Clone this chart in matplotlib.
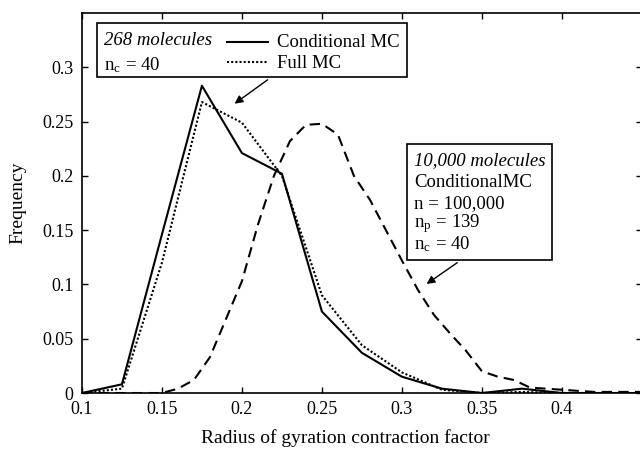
import matplotlib
matplotlib.use("Agg")
import matplotlib.pyplot as plt
from matplotlib.patches import Rectangle

plt.rcParams['font.family'] = ['Liberation Serif', 'DejaVu Serif']
plt.rcParams['mathtext.fontset'] = 'stix'

# histogram of contraction factor, 268 molecules
x_small = [0.1, 0.125, 0.15, 0.175, 0.2, 0.225, 0.25, 0.275, 0.3, 0.325, 0.35, 0.375, 0.4, 0.425, 0.45]
cond_mc = [0.0, 0.008, 0.146, 0.283, 0.221, 0.202, 0.075, 0.037, 0.015, 0.004, 0.0, 0.004, 0.0, 0.0, 0.0]
full_mc = [0.0, 0.004, 0.120, 0.268, 0.249, 0.200, 0.090, 0.044, 0.019, 0.003, 0.0, 0.001, 0.0, 0.0, 0.0]

# 10,000 molecules, conditional MC
x_large = [0.10, 0.11, 0.12, 0.13, 0.14, 0.15, 0.16, 0.17, 0.18, 0.19, 0.20, 0.21, 0.22,
           0.23, 0.24, 0.25, 0.26, 0.27, 0.28, 0.29, 0.30, 0.31, 0.32, 0.33, 0.34, 0.35,
           0.36, 0.37, 0.38, 0.39, 0.40, 0.41, 0.42, 0.43, 0.44, 0.45]
large_mc = [0.0, 0.0, 0.0, 0.0, 0.0, 0.0, 0.004, 0.012, 0.033, 0.068, 0.103, 0.155, 0.200,
            0.232, 0.247, 0.248, 0.238, 0.200, 0.178, 0.150, 0.122, 0.095, 0.072, 0.055, 0.039, 0.020,
            0.015, 0.012, 0.005, 0.004, 0.003, 0.002, 0.001, 0.001, 0.001, 0.001]

xticks = [0.1, 0.15, 0.2, 0.25, 0.3, 0.35, 0.4]
xticklabels = ['0.1', '0.15', '0.2', '0.25', '0.3', '0.35', '0.4']
yticks = [0, 0.05, 0.1, 0.15, 0.2, 0.25, 0.3]
yticklabels = ['0', '0.05', '0.1', '0.15', '0.2', '0.25', '0.3']

fig = plt.figure(figsize=(6.4, 4.49), dpi=100)
ax = fig.add_axes([0.128, 0.1247, 0.875, 0.8463])

ax.plot(x_small, cond_mc, color='black', lw=1.5, ls='-')
ax.plot(x_small, full_mc, color='black', lw=1.5, ls=(0, (1, 1)))
ax.plot(x_large, large_mc, color='black', lw=1.5, ls=(0, (5, 3)))

ax.set_xlim(0.1, 0.45)
ax.set_ylim(0, 0.35)
ax.set_xticks(xticks)
ax.set_xticklabels(xticklabels)
ax.set_yticks(yticks)
ax.set_yticklabels(yticklabels)
ax.tick_params(direction='in', length=4, width=1, top=True, right=True, labelsize=13)
ax.tick_params(axis='x', pad=6)
ax.tick_params(axis='y', pad=6)
ax.spines['right'].set_visible(False)
for s in ['left', 'top', 'bottom']:
    ax.spines[s].set_linewidth(1.2)

ax.set_xlabel('Radius of gyration contraction factor', fontsize=14)
ax.set_ylabel('Frequency', fontsize=14)
ax.xaxis.set_label_coords(0.47, -0.095)
ax.yaxis.set_label_coords(-0.1, 0.5)

# box for the small set
ax.add_patch(Rectangle((0.1094, 0.291), 0.1936, 0.050, fill=False, lw=1.2, ec='black'))
ax.text(0.1135, 0.325, '268 molecules', fontsize=13.5, style='italic', va='center')
ax.text(0.1135, 0.302, r'n$_\mathregular{c}$ = 40', fontsize=13.5, va='center')
ax.plot([0.1906, 0.2163], [0.323, 0.323], color='black', lw=1.5)
ax.plot([0.1906, 0.2163], [0.3045, 0.3045], color='black', lw=1.5, ls=(0, (1, 1)))
ax.text(0.2219, 0.323, 'Conditional MC', fontsize=13.5, va='center')
ax.text(0.2219, 0.3036, 'Full MC', fontsize=13.5, va='center')
ax.annotate('', xy=(0.194, 0.265), xytext=(0.2175, 0.290),
            arrowprops=dict(arrowstyle='-|>', color='black', lw=1, mutation_scale=12))

# box for the large set
ax.add_patch(Rectangle((0.303, 0.1224), 0.091, 0.1066, fill=False, lw=1.2, ec='black', fc='white'))
ax.text(0.3075, 0.2144, '10,000 molecules', fontsize=13.5, style='italic', va='center')
ax.text(0.3075, 0.194, 'ConditionalMC', fontsize=13.5, va='center')
ax.text(0.3075, 0.1748, 'n = 100,000', fontsize=13.5, va='center')
ax.text(0.3075, 0.156, r'n$_\mathregular{p}$ = 139', fontsize=13.5, va='center')
ax.text(0.3075, 0.137, r'n$_\mathregular{c}$ = 40', fontsize=13.5, va='center')
ax.annotate('', xy=(0.314, 0.099), xytext=(0.336, 0.1215),
            arrowprops=dict(arrowstyle='-|>', color='black', lw=1, mutation_scale=12))

fig.savefig('out.png', dpi=100)
